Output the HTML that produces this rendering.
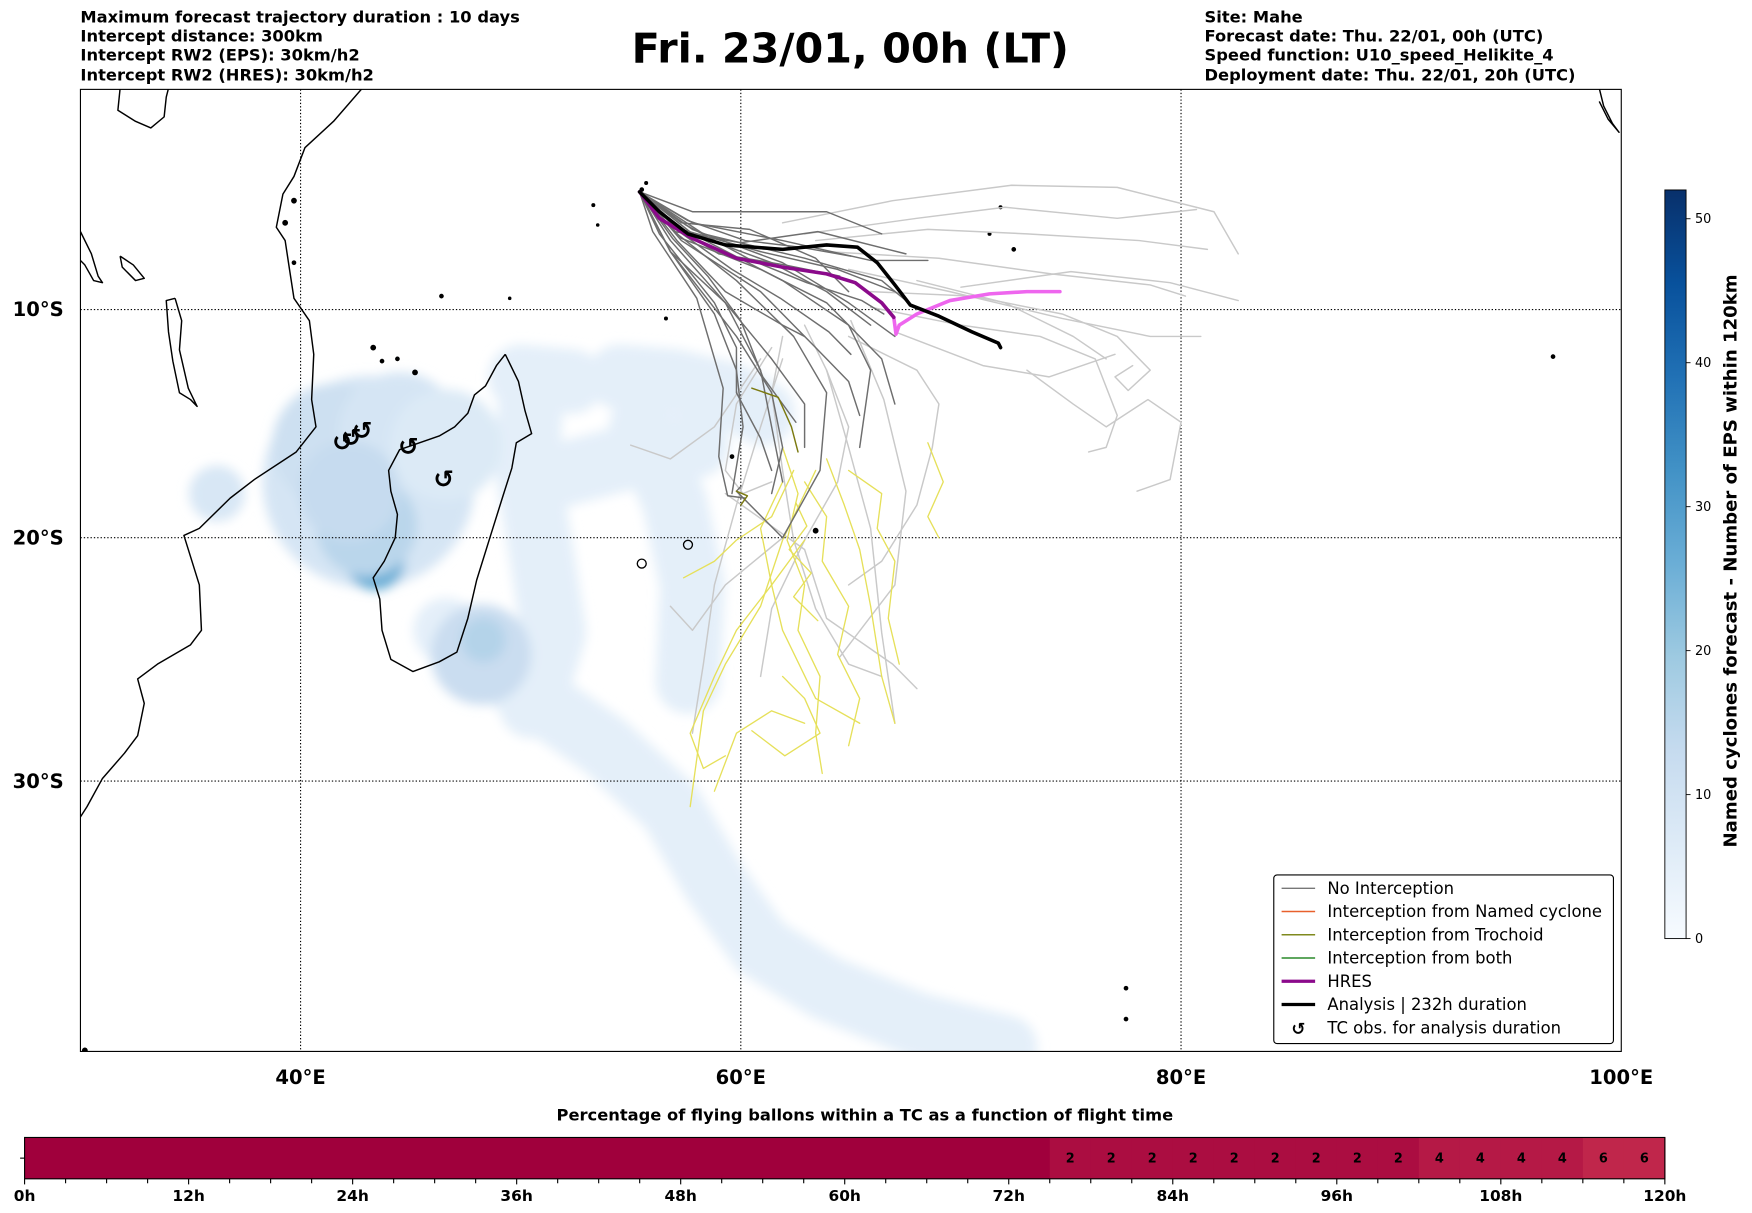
<!DOCTYPE html>
<html><head><meta charset="utf-8"><style>
html,body{margin:0;padding:0;background:#fff;}
svg{display:block;font-family:"DejaVu Sans","Liberation Sans",sans-serif;}
</style></head><body>
<svg id="fig" width="1752" height="1213" viewBox="0 0 1568 1085.6" preserveAspectRatio="none" xmlns="http://www.w3.org/2000/svg">
<defs>
<filter id="blur" x="-20%" y="-20%" width="140%" height="140%"><feGaussianBlur stdDeviation="5"/></filter>
<linearGradient id="cbgrad" x1="0" y1="1" x2="0" y2="0">
<stop offset="0" stop-color="#f7fbff"/><stop offset="0.125" stop-color="#deebf7"/><stop offset="0.25" stop-color="#c6dbef"/><stop offset="0.375" stop-color="#9ecae1"/><stop offset="0.5" stop-color="#6baed6"/><stop offset="0.625" stop-color="#4292c6"/><stop offset="0.75" stop-color="#2171b5"/><stop offset="0.875" stop-color="#08519c"/><stop offset="1" stop-color="#08306b"/>
</linearGradient>
<clipPath id="mapclip"><rect x="72" y="80" width="1379" height="861"/></clipPath>
</defs>
<g font-weight="bold" font-size="14.6">
<text x="72" y="20">Maximum forecast trajectory duration : 10 days</text>
<text x="72" y="37">Intercept distance: 300km</text>
<text x="72" y="54">Intercept RW2 (EPS):  30km/h2</text>
<text x="72" y="72">Intercept RW2 (HRES): 30km/h2</text>
</g>
<text x="761" y="56" text-anchor="middle" font-weight="bold" font-size="37">Fri. 23/01, 00h (LT)</text>
<g font-weight="bold" font-size="14.6">
<text x="1078" y="20">Site: Mahe</text>
<text x="1078" y="37">Forecast date: Thu. 22/01, 00h (UTC)</text>
<text x="1078" y="54">Speed function: U10_speed_Helikite_4</text>
<text x="1078" y="72">Deployment date: Thu. 22/01, 20h (UTC)</text>
</g>
<g id="map" clip-path="url(#mapclip)">
<g id="density" filter="url(#blur)"></g>
<g id="grid"></g>
<g id="coast"></g>
<g id="tracks"></g>
<g id="tcobs"></g>
</g>
<rect x="72" y="80" width="1379" height="861" fill="none" stroke="#000" stroke-width="1"/>
<g id="axislabels" font-weight="bold" font-size="17.5"></g>
<g id="legend"></g>
<g id="colorbar"></g>
<g id="timebar"></g>
</svg>
<script>
// ---------- data ----------
const lonTicks = [40, 60, 80, 100];
const latTicks = [-10, -20, -30];
const analysisLon = [55.4,56.3,57.6,59.3,61.9,63.9,65.3,66.2,67.0,67.7,69.0,70.5,71.7,71.8];
const analysisLat = [-4.7,-5.6,-6.6,-7.1,-7.3,-7.1,-7.2,-7.9,-8.9,-9.8,-10.3,-11.0,-11.5,-11.7];
const hresLon = [55.4,56.3,57.8,59.8,61.9,63.9,65.2,66.4,66.95];
const hresLat = [-4.7,-5.9,-6.8,-7.7,-8.1,-8.4,-8.8,-9.7,-10.35];
const hresTailLon = [66.95,67.05,67.2,68.0,69.5,71.3,73.0,74.5];
const hresTailLat = [-10.35,-11.1,-10.7,-10.2,-9.6,-9.3,-9.2,-9.2];
const darkTracks = [
 [[55.4,-4.7],[57.8,-6.1],[61.9,-6.9],[65.9,-7.8],[68.5,-7.8]],
 [[55.4,-4.7],[57.3,-6.4],[60.9,-7.4],[64.4,-8.2],[67.0,-9.2]],
 [[55.4,-4.7],[57.8,-6.6],[61.4,-7.9],[63.9,-9.2],[65.9,-10.7]],
 [[55.4,-4.7],[57.1,-6.9],[59.3,-9.2],[61.9,-10.7],[62.9,-11.2]],
 [[55.4,-4.7],[56.8,-7.4],[58.8,-10.2],[59.8,-12.7],[60.1,-15.2],[59.6,-18.1]],
 [[55.4,-4.7],[57.3,-6.9],[60.9,-9.2],[63.4,-11.7],[64.9,-13.2],[65.4,-14.7]],
 [[55.4,-4.7],[56.8,-7.4],[59.8,-11.2],[61.4,-13.7],[61.9,-16.1],[61.4,-18.1]],
 [[55.4,-4.7],[57.8,-6.6],[61.9,-8.7],[64.9,-10.7],[65.9,-12.7],[65.4,-16.1]],
 [[55.4,-4.7],[56.3,-6.6],[58.8,-9.7],[59.8,-11.7],[59.8,-13.7],[60.9,-15.7],[61.4,-17.1]],
 [[55.4,-4.7],[57.8,-5.6],[60.9,-5.6],[63.9,-5.6],[66.4,-6.6]],
 [[55.4,-4.7],[57.3,-6.1],[60.4,-6.4],[63.4,-7.7],[64.9,-9.2]],
 [[55.4,-4.7],[56.8,-7.4],[59.3,-9.7],[61.4,-12.2],[62.9,-14.2],[62.9,-16.1]],
 [[55.4,-4.7],[57.8,-6.4],[61.9,-7.9],[64.9,-9.7],[67.0,-11.2]],
 [[55.4,-4.7],[57.1,-6.6],[59.8,-8.7],[62.4,-11.2],[63.9,-13.7],[63.6,-17.1],[61.9,-20.0],[59.8,-18.0],[60.0,-17.8]],
 [[55.4,-4.7],[56.8,-6.9],[59.3,-9.7],[60.9,-12.7],[61.4,-15.2],[61.9,-17.6]],
 [[55.4,-4.7],[58.3,-6.6],[62.9,-7.7],[66.4,-8.7],[68.0,-10.0]],
 [[55.4,-4.7],[57.3,-6.8],[60.9,-8.2],[63.9,-9.7],[66.4,-12.2],[67.0,-14.2]],
 [[55.4,-4.7],[56.5,-6.0],[59.0,-7.5],[62.0,-8.0],[64.5,-8.5]],
 [[55.4,-4.7],[57.0,-6.5],[60.0,-7.0],[63.5,-6.5],[67.5,-7.5]],
 [[55.4,-4.7],[56.0,-6.5],[58.0,-9.5],[59.2,-13.5],[59.0,-16.5],[59.4,-18.2],[60.2,-18.3]],
 [[55.4,-4.7],[57.5,-6.2],[60.5,-7.8],[63.0,-8.8],[65.5,-9.6],[66.5,-10.2]],
 [[55.4,-4.7],[57.6,-6.0],[60.2,-6.9],[62.7,-7.2],[65.0,-7.6]],
 [[55.4,-4.7],[57.2,-6.5],[59.6,-8.2],[61.8,-9.5],[64.0,-11.0],[65.0,-12.0]],
 [[55.4,-4.7],[56.9,-6.8],[58.5,-8.5],[60.0,-10.5],[61.0,-13.0],[62.5,-15.0]]
];
const lightTracks = [
 [[61.9,-6.1],[66.9,-5.1],[72.3,-4.4],[77.1,-4.5],[81.5,-5.6],[82.6,-7.5]],
 [[62.9,-6.6],[68.0,-5.9],[72.0,-5.4],[77.1,-5.9],[80.7,-5.5]],
 [[63.4,-6.9],[68.5,-6.4],[73.0,-6.6],[78.1,-6.9],[81.2,-7.3]],
 [[63.9,-7.4],[69.0,-7.7],[74.1,-8.4],[78.6,-8.9],[80.2,-9.4]],
 [[64.9,-8.2],[69.5,-9.2],[74.6,-10.4],[78.6,-11.2],[80.9,-11.2]],
 [[65.9,-9.2],[70.5,-9.4],[74.6,-10.2],[77.1,-11.2],[78.6,-12.7],[77.6,-13.6],[77.0,-13.0],[77.8,-12.5]],
 [[65.9,-9.9],[70.0,-10.7],[73.6,-11.2],[76.1,-12.2],[77.1,-14.7],[76.6,-16.1],[75.8,-16.3]],
 [[64.9,-11.2],[68.0,-12.7],[69.0,-14.2],[68.7,-16.1],[68.0,-18.6],[66.4,-21.0],[64.9,-22.0]],
 [[62.9,-10.7],[63.9,-12.7],[64.9,-15.2],[64.4,-17.6],[62.9,-20.1],[61.4,-23.0],[60.9,-25.8]],
 [[61.9,-11.2],[61.4,-13.7],[61.9,-17.1],[62.4,-20.1],[63.4,-23.0],[64.9,-25.3],[66.4,-25.8]],
 [[61.4,-11.7],[59.8,-14.2],[59.3,-17.1],[60.1,-18.1],[61.4,-17.6]],
 [[60.9,-12.2],[58.8,-15.2],[56.8,-16.6],[55.0,-16.0]],
 [[61.9,-12.2],[60.9,-15.2],[59.8,-18.6],[58.8,-22.0],[58.3,-25.3],[57.8,-28.1]],
 [[63.9,-12.7],[64.9,-16.1],[65.9,-19.6],[66.4,-24.0],[67.0,-27.7]],
 [[68.0,-8.7],[72.0,-9.7],[75.1,-11.2],[76.6,-12.2]],
 [[70.0,-9.0],[75.0,-8.3],[79.5,-8.8],[82.6,-9.6]],
 [[59.3,-18.1],[62.9,-20.5],[63.9,-23.4],[66.9,-25.3],[68.0,-26.3]],
 [[73.0,-12.7],[75.1,-14.2],[76.6,-15.2],[78.5,-14.0],[80.0,-15.0],[79.5,-17.5],[78.0,-18.0]],
 [[61.9,-20.0],[59.3,-22.0],[57.8,-23.9],[56.8,-22.9]],
 [[67.0,-11.0],[71.0,-12.5],[74.0,-13.0],[77.0,-12.0]],
 [[65.0,-10.5],[66.5,-14.0],[67.5,-18.0],[67.0,-22.0],[64.5,-25.0]]
];
const yellowTracks = [
 [[61.9,-16.1],[62.6,-18.1],[62.1,-20.1],[62.9,-22.0],[62.6,-23.9],[63.6,-25.8],[63.4,-28.1],[63.7,-29.7]],
 [[62.4,-17.1],[61.4,-19.1],[59.8,-20.1],[58.8,-21.0],[57.4,-21.7]],
 [[62.9,-17.6],[63.9,-19.1],[63.7,-21.0],[64.9,-22.9],[64.4,-24.9],[65.4,-26.7],[64.9,-28.6]],
 [[63.9,-16.6],[64.7,-18.6],[65.4,-20.5],[65.9,-22.9],[66.4,-25.8],[67.0,-27.7]],
 [[63.4,-17.1],[61.9,-20.1],[60.9,-22.9],[59.3,-25.3],[58.3,-27.2],[57.7,-31.0]],
 [[64.9,-17.1],[66.4,-18.1],[66.2,-19.6],[67.0,-21.0],[66.7,-23.4],[67.2,-25.3]],
 [[68.5,-15.9],[69.2,-17.6],[68.5,-19.1],[69.0,-20.0]],
 [[62.9,-20.1],[61.4,-22.0],[59.8,-23.9],[58.8,-25.8],[57.7,-28.1],[58.3,-29.5],[59.3,-29.0]],
 [[61.9,-25.8],[62.9,-26.7],[63.6,-28.1],[62.0,-29.0],[60.5,-28.0]],
 [[58.8,-30.4],[59.8,-28.1],[61.4,-27.2],[62.9,-27.7]],
 [[61.9,-17.6],[60.9,-19.6],[61.4,-22.0],[61.9,-23.9],[63.4,-26.7],[65.4,-27.7]],
 [[62.5,-18.5],[63.0,-19.5],[62.2,-20.5],[63.2,-21.5],[62.4,-22.5],[63.5,-23.5]]
];
const oliveTracks = [
 [[60.5,-13.5],[61.7,-13.9],[62.3,-15.2],[62.6,-16.3]],
 [[59.8,-18.0],[60.3,-18.2],[60.0,-18.6]]
];
const tcObsLon = [41.9,42.3,42.8,44.9,46.5];
const tcObsLat = [-15.9,-15.7,-15.4,-16.1,-17.5];
const densityBands = [
 [[46.6,-23.9],[50.7,-26.7],[53.8,-28.6],[56.8,-31.0],[58.8,-33.9],[60.9,-36.3],[63.9,-37.8],[68.0,-39.1],[72.0,-39.9]],
 [[54.5,-13.0],[57.0,-13.2],[59.5,-13.8],[61.0,-14.6]],
 [[55.5,-15.2],[57.0,-18.5],[57.8,-22.0],[57.6,-26.0]],
 [[50.5,-13.2],[50.3,-17.0],[51.0,-21.0],[51.5,-24.0],[50.5,-27.0]],
 [[51.0,-17.5],[55.0,-16.5],[58.0,-16.0]],
 [[50.0,-13.0],[52.3,-13.2]]
];
const densityBandCounts = [5,5,5,5,5,5];
const densityBlobs = [
 [43.1,-17.6,9],[41.5,-16.0,11],[44.5,-15.5,9],[36.2,-18.1,8],[43.4,-21.0,26],[43.0,-19.5,15],[42.2,-18.0,13],[48.2,-24.9,12],[48.3,-24.3,16],[46.6,-16.0,7]
];
const densityBlobRadii = [95,55,55,25,26,45,45,45,20,50];
const africaCoast = [[42.8,0],[41.5,-1.5],[40.2,-2.7],[39.7,-4],[39.2,-4.8],[38.9,-6.3],[39.3,-6.9],[39.5,-8.2],[39.7,-9.5],[40.4,-10.5],[40.6,-12],[40.5,-14],[40.7,-15.2],[39.8,-16.3],[37.9,-17.5],[36.8,-18.3],[35.4,-19.6],[34.7,-19.9],[35.0,-20.8],[35.4,-22],[35.5,-23.9],[35.0,-24.5],[33.5,-25.3],[32.6,-25.9],[32.9,-26.9],[32.6,-28.2],[32.0,-28.9],[31.0,-29.9],[30.3,-31.0],[30.0,-31.4]];
const madagascar = [[49.3,-12.0],[49.9,-13.2],[50.2,-14.5],[50.5,-15.5],[49.8,-15.9],[49.6,-17.0],[49.2,-18.2],[48.6,-20.0],[48.0,-21.8],[47.6,-23.4],[47.1,-24.8],[46.3,-25.2],[45.1,-25.6],[44.1,-25.1],[43.7,-23.9],[43.6,-22.6],[43.3,-21.7],[43.8,-21.0],[44.3,-20.0],[44.4,-19.0],[44.1,-18.0],[44.0,-17.1],[44.5,-16.2],[45.4,-15.9],[46.3,-15.6],[47.0,-15.2],[47.6,-14.6],[47.9,-13.8],[48.4,-13.4],[48.9,-12.5],[49.3,-12.0]];
const lakes = [
 [[34.3,-9.5],[34.6,-10.5],[34.5,-11.8],[34.9,-13.5],[35.3,-14.3],[35.0,-14.0],[34.5,-13.7],[34.2,-12.3],[34.0,-11],[33.9,-9.6],[34.3,-9.5]],
 [[30,-6.5],[30.5,-7.5],[30.8,-8.5],[31.0,-8.8],[30.6,-8.7],[30.2,-8.0],[30,-7.8]],
 [[31.8,0],[31.7,-1],[32.5,-1.5],[33.2,-1.8],[33.8,-1.3],[33.9,-0.4],[34.0,0]],
 [[31.8,-7.6],[32.4,-8.0],[32.9,-8.6],[32.5,-8.7],[31.9,-8.1],[31.8,-7.6]],
 [[99.0,0],[99.2,-0.8],[99.6,-1.6],[99.9,-2.0],[99.4,-1.4],[99.0,-0.6]]
];
const islands = [[43.3,-11.7],[44.4,-12.2],[43.7,-12.3],[45.2,-12.8],[57.6,-20.3],[55.5,-21.1],[63.4,-19.7],[55.5,-4.6],[55.7,-4.3],[46.4,-9.4],[53.3,-5.3],[56.6,-10.4],[59.6,-16.5],[71.8,-5.4],[71.3,-6.6],[72.4,-7.3],[96.9,-12.1],[77.5,-37.8],[77.5,-38.9],[39.3,-6.1],[39.7,-5.1],[39.7,-7.9],[53.5,-6.2],[49.5,-9.5],[30.2,-40]];
const islandSizes = [2,1.5,1.5,2,4,4,2,1.5,1.2,1.5,1.2,1.2,1.5,1.2,1.2,1.5,1.5,1.5,1.5,2,2,1.5,1,1,2];
const cbTicks = [0,10,20,30,40,50];
const cbMax = 52;
const cellPercent = [0,0,0,0,0,0,0,0,0,0,0,0,0,0,0,0,0,0,0,0,0,0,0,0,0,2,2,2,2,2,2,2,2,2,4,4,4,4,6,6];
const hourLabels = ["0h","12h","24h","36h","48h","60h","72h","84h","96h","108h","120h"];
const legendLabels = ["No Interception","Interception from Named cyclone","Interception from Trochoid","Interception from both","HRES","Analysis | 232h duration","TC obs. for analysis duration"];

// ---------- helpers ----------
const NS = "http://www.w3.org/2000/svg";
const X0 = 72, PX = 19.7, Y0 = 79;
function xOf(lon){ return X0 + (lon-30)*PX; }
function merc(latAbs){ const r = latAbs*Math.PI/180; return Math.log(Math.tan(Math.PI/4 + r/2))*180/Math.PI; }
function yOf(lat){ return Y0 + merc(-lat)*PX; }
function mk(tag, attrs, parent){ const e = document.createElementNS(NS, tag); for (const k in attrs) e.setAttribute(k, attrs[k]); parent.appendChild(e); return e; }
function pathD(pts){ return pts.map((p,i)=>(i?"L":"M")+xOf(p[0]).toFixed(1)+","+yOf(p[1]).toFixed(1)).join(""); }
function zipPts(lons, lats){ return lons.map((v,i)=>[v, lats[i]]); }
const bluesStops = [[247,251,255],[222,235,247],[198,219,239],[158,202,225],[107,174,214],[66,146,198],[33,113,181],[8,81,156],[8,48,107]];
function blueColor(v){ const t = Math.max(0,Math.min(1, v/cbMax))*8; const i=Math.min(7,Math.floor(t)), f=t-i; const a=bluesStops[i], b=bluesStops[i+1]; return `rgb(${a.map((s,k)=>Math.round(s+(b[k]-s)*f)).join(',')})`; }

// ---------- density ----------
const dens = document.getElementById('density');
densityBands.forEach((band,i)=>{
 const p = mk('path',{d:pathD(band),fill:'none',stroke:blueColor(densityBandCounts[i]),'stroke-width':58,'stroke-linecap':'round','stroke-linejoin':'round'},dens);
 
 
});
densityBlobs.forEach((b,i)=>{
 const c = mk('circle',{cx:xOf(b[0]),cy:yOf(b[1]),r:densityBlobRadii[i],fill:blueColor(b[2])},dens);
 
 
});

// ---------- grid ----------
const grid = document.getElementById('grid');
lonTicks.forEach(l=>{
 if (l>=100) return;
 const g = mk('line',{x1:xOf(l),x2:xOf(l),y1:80,y2:941,stroke:'#000','stroke-width':1,'stroke-dasharray':'1.2,1.8'},grid);
 
 
});
latTicks.forEach(l=>{
 const g = mk('line',{x1:72,x2:1451,y1:yOf(l),y2:yOf(l),stroke:'#000','stroke-width':1,'stroke-dasharray':'1.2,1.8'},grid);
 
 
});

// ---------- coast ----------
const coast = document.getElementById('coast');
[africaCoast, madagascar].concat(lakes).forEach((c,i)=>{
 const p = mk('path',{d:pathD(c),fill:'none',stroke:'#000','stroke-width':1.3,'stroke-linejoin':'round'},coast);
 
 
});
islands.forEach((s,i)=>{
 const c = mk('circle',{cx:xOf(s[0]),cy:yOf(s[1]),r:islandSizes[i],fill:islandSizes[i]>=3?'none':'#000',stroke:'#000','stroke-width':1.2},coast);
 
 
});

// ---------- tracks ----------
const tr = document.getElementById('tracks');
function drawTrack(pts, color, w, name){
 const p = mk('path',{d:pathD(pts),fill:'none',stroke:color,'stroke-width':w,'stroke-linejoin':'round','stroke-linecap':'round'},tr);
 
 
}
lightTracks.forEach(t=>drawTrack(t,'#c9c9c9',1.3,'eps-track-far'));
yellowTracks.forEach(t=>drawTrack(t,'#e6e05a',1.2,'eps-track-late'));
darkTracks.forEach(t=>drawTrack(t,'#6e6e6e',1.3,'eps-track-no-interception'));
oliveTracks.forEach(t=>drawTrack(t,'#7c7a10',1.3,'eps-track-trochoid'));
drawTrack(zipPts(hresTailLon,hresTailLat),'#ee66ee',3.2,'hres-track-tail');
drawTrack(zipPts(hresLon,hresLat),'#8b0a8b',3.2,'hres-track');
drawTrack(zipPts(analysisLon,analysisLat),'#000',3.2,'analysis-track');

// ---------- TC obs ----------
const tco = document.getElementById('tcobs');
tcObsLon.forEach((l,i)=>{
 const t = mk('text',{x:xOf(l),y:yOf(tcObsLat[i])+7,'text-anchor':'middle','font-size':22,'font-weight':'bold'},tco);
 t.textContent = '↺';
 
 
});

// ---------- axis labels ----------
const ax = document.getElementById('axislabels');
lonTicks.forEach(l=>{
 const t = mk('text',{x:xOf(l),y:970,'text-anchor':'middle'},ax);
 t.textContent = l+'°E';
 
 
});
latTicks.forEach(l=>{
 const t = mk('text',{x:57,y:yOf(l)+6,'text-anchor':'end'},ax);
 t.textContent = (-l)+'°S';
 
 
});

// ---------- legend ----------
const lg = document.getElementById('legend');
mk('rect',{x:1140,y:783,width:304,height:151,rx:3,fill:'#fff',stroke:'#000','stroke-width':1},lg);
const lgColors = ['#777','#e8602c','#7f8a1e','#2a8a2a','#8b0a8b','#000',null];
const lgWidths = [1.3,1.3,1.3,1.3,3,3,0];
legendLabels.forEach((lab,i)=>{
 const y = 795 + i*20.8;
 const g = mk('g',{},lg);
 
 
 if (lgColors[i]) mk('line',{x1:1147,x2:1177,y1:y,y2:y,stroke:lgColors[i],'stroke-width':lgWidths[i]},g);
 else { const s = mk('text',{x:1162,y:y+6,'text-anchor':'middle','font-size':15,'font-weight':'bold'},g); s.textContent='↺'; }
 const t = mk('text',{x:1188,y:y+5,'font-size':14.7},g);
 t.textContent = lab;
});

// ---------- colorbar ----------
const cb = document.getElementById('colorbar');
const cbTop=170, cbBot=840, cbX=1490, cbW=19;
function cbY(v){ return cbBot - (v/cbMax)*(cbBot-cbTop); }
mk('rect',{x:cbX,y:cbTop,width:cbW,height:cbBot-cbTop,fill:'url(#cbgrad)',stroke:'#000','stroke-width':0.8},cb);
cbTicks.forEach(v=>{
 mk('line',{x1:cbX+cbW,x2:cbX+cbW+4,y1:cbY(v),y2:cbY(v),stroke:'#000','stroke-width':0.8},cb);
 const t = mk('text',{x:cbX+cbW+8,y:cbY(v)+4,'font-size':11.5},cb);
 t.textContent = v;
 
 
});
const cbl = mk('text',{x:1554,y:502,'text-anchor':'middle','font-size':16.2,'font-weight':'bold',transform:'rotate(-90 1554 502)'},cb);
cbl.textContent = 'Named cyclones forecast - Number of EPS within 120km';



// ---------- time bar ----------
const tb = document.getElementById('timebar');
const tbX0=22, tbX1=1490, tbY=1018, tbH=37;
const cellW = (tbX1-tbX0)/cellPercent.length;
function pctColor(p){ const t=p/6; const a=[160,0,60], b=[192,38,75]; return `rgb(${a.map((s,i)=>Math.round(s+(b[i]-s)*t)).join(',')})`; }
const tt = mk('text',{x:774,y:1003,'text-anchor':'middle','font-size':14.6,'font-weight':'bold'},tb);
tt.textContent = 'Percentage of flying ballons within a TC as a function of flight time';


cellPercent.forEach((p,i)=>{
 const r = mk('rect',{x:tbX0+i*cellW,y:tbY,width:cellW+0.6,height:tbH,fill:pctColor(p)},tb);
 
 
 if (p>0){
  const t = mk('text',{x:tbX0+(i+0.5)*cellW,y:tbY+tbH/2+4,'text-anchor':'middle','font-size':11.5,'font-weight':'bold'},tb);
  t.textContent = p;
 }
});
mk('rect',{x:tbX0,y:tbY,width:tbX1-tbX0,height:tbH,fill:'none',stroke:'#000','stroke-width':1},tb);
mk('line',{x1:tbX0-4,x2:tbX0,y1:tbY+tbH/2,y2:tbY+tbH/2,stroke:'#000','stroke-width':1},tb);
for (let i=0;i<=cellPercent.length;i++){
 mk('line',{x1:tbX0+i*cellW,x2:tbX0+i*cellW,y1:tbY+tbH,y2:tbY+tbH+(i%4===0?5:4),stroke:'#000','stroke-width':1},tb);
}
hourLabels.forEach((h,i)=>{
 const t = mk('text',{x:tbX0+i*4*cellW,y:1075,'text-anchor':'middle','font-size':13.8,'font-weight':'bold'},tb);
 t.textContent = h;
 
 
});
</script>
</body></html>
